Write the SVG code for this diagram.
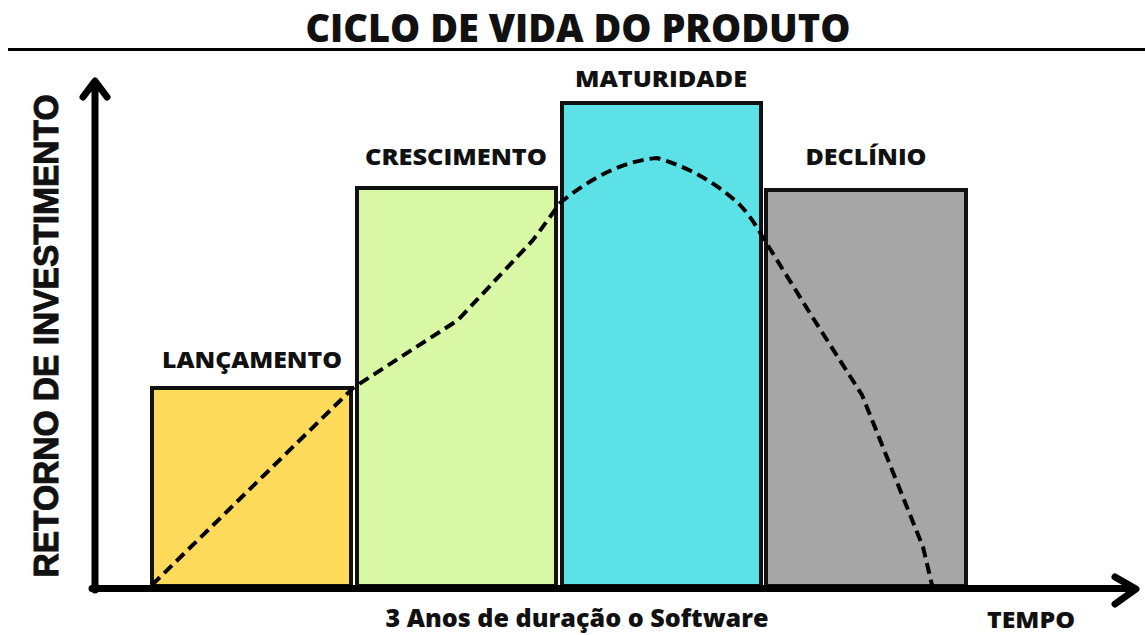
<svg xmlns="http://www.w3.org/2000/svg" width="1145" height="635" viewBox="0 0 1145 635">
<style>
.lbl{font-family:"Open Sans","Liberation Sans",sans-serif;font-weight:800;fill:#111;}
.bar{stroke:#111;stroke-width:4;}
.axis{stroke:#000;stroke-width:7;fill:none;stroke-linecap:round;stroke-linejoin:round;}
.curve{stroke:#000;stroke-width:4;fill:none;stroke-dasharray:11 6;}
</style>
<rect width="1145" height="635" fill="#fff"/>
<g id="title">
<text class="lbl" x="578" y="42" font-size="39" font-weight="700" text-anchor="middle" textLength="545" lengthAdjust="spacingAndGlyphs">CICLO DE VIDA DO PRODUTO</text>
<line x1="8" y1="49.5" x2="1145" y2="49.5" stroke="#000" stroke-width="3"/>
</g>
<g id="lancamento">
<rect class="bar" x="152" y="388" width="199" height="198" fill="#FDDA5A"/>
<text class="lbl" x="252" y="368" font-size="23" text-anchor="middle" textLength="180" lengthAdjust="spacingAndGlyphs">LANÇAMENTO</text>
</g>
<g id="crescimento">
<rect class="bar" x="357" y="188" width="199" height="398" fill="#D9F8A6"/>
<text class="lbl" x="456" y="165" font-size="23" text-anchor="middle" textLength="182" lengthAdjust="spacingAndGlyphs">CRESCIMENTO</text>
</g>
<g id="maturidade">
<rect class="bar" x="562" y="103" width="199" height="483" fill="#5CE1E6"/>
<text class="lbl" x="661" y="87" font-size="23" text-anchor="middle" textLength="172" lengthAdjust="spacingAndGlyphs">MATURIDADE</text>
</g>
<g id="declinio">
<rect class="bar" x="766" y="190" width="200" height="396" fill="#A6A6A6"/>
<text class="lbl" x="866" y="165" font-size="23" text-anchor="middle" textLength="121" lengthAdjust="spacingAndGlyphs">DECLÍNIO</text>
</g>
<g id="connectors">
<path class="curve" d="M152,585 L353,388 L458,320 Q505,270 533,240 Q548,220 560,203 Q610,162 657,158 Q705,172 740,205 Q752,218 762,236 L813,318 L862,395 L923,547 L932,585"/>
<path class="axis" d="M95,590 L95,82 M83,97 L95,81 L107,97"/>
<path class="axis" d="M92,588.5 L1134,588.5 M1115,577 L1136,589 L1115,604"/>
</g>
<g id="axis-labels">
<text x="58" y="336" transform="rotate(-90 58 336)" font-family="Liberation Sans, Arial, sans-serif" font-weight="700" font-size="35" fill="#111" stroke="#111" stroke-width="1" text-anchor="middle" textLength="483" lengthAdjust="spacingAndGlyphs">RETORNO DE INVESTIMENTO</text>
<text class="lbl" x="577" y="627" font-size="24" text-anchor="middle" textLength="383" lengthAdjust="spacingAndGlyphs">3 Anos de duração o Software</text>
<text class="lbl" x="1031" y="628" font-size="22" text-anchor="middle" textLength="88" lengthAdjust="spacingAndGlyphs">TEMPO</text>
</g>
</svg>
